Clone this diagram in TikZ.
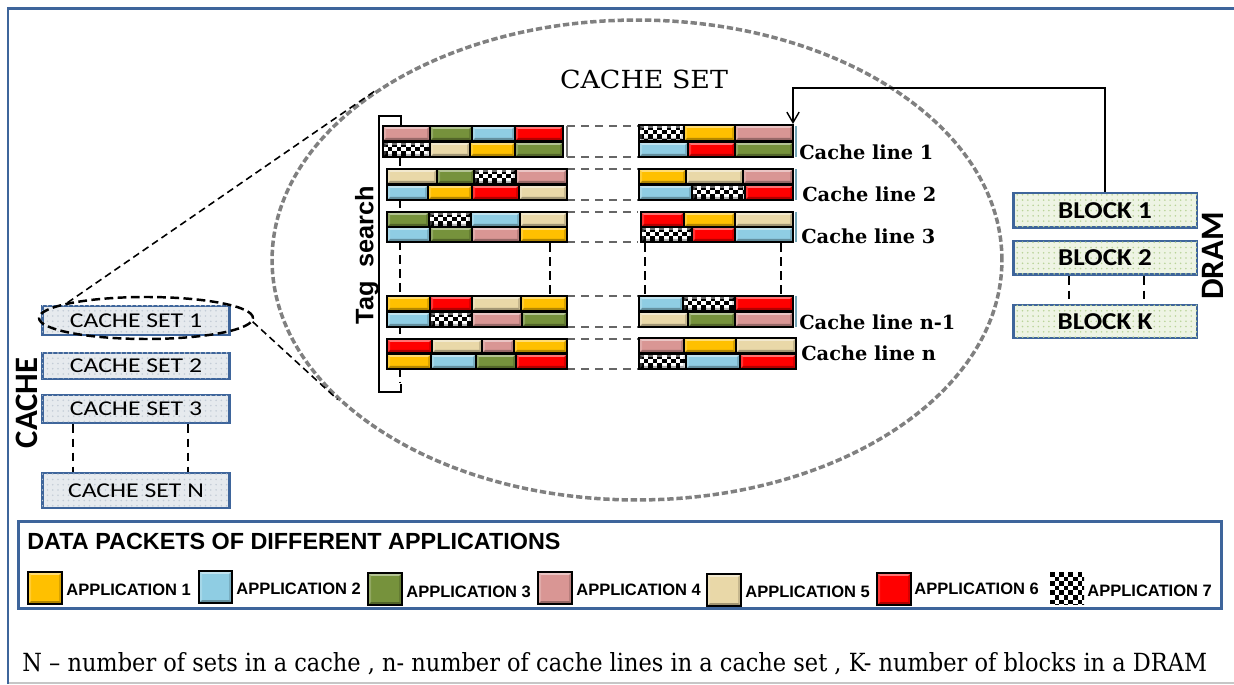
\documentclass[tikz,border=0pt]{standalone}
\usepackage{fontspec}
\usepackage{graphicx}
\usetikzlibrary{patterns,arrows.meta,shapes.geometric}
\setmainfont{DejaVu Serif}
\newfontfamily\calib{Carlito}
\newfontfamily\lsans{Liberation Sans}

\definecolor{appY}{HTML}{FFC000}
\definecolor{appB}{HTML}{8FCDE3}
\definecolor{appG}{HTML}{76923C}
\definecolor{appP}{HTML}{D99694}
\definecolor{appT}{HTML}{E9D8A8}
\definecolor{appR}{HTML}{FF0000}
\definecolor{frameblue}{HTML}{3E659B}
\definecolor{setfill}{HTML}{E6EAEE}
\definecolor{setdot}{HTML}{C3CCD6}
\definecolor{blkfill}{HTML}{EEF4E4}
\definecolor{blkdot}{HTML}{B9D398}

\tikzset{
  pY/.style={fill=appY},
  pB/.style={fill=appB},
  pG/.style={fill=appG},
  pP/.style={fill=appP},
  pT/.style={fill=appT},
  pR/.style={fill=appR},
  pK/.style={fill=white},
  setbox/.style={draw=frameblue, line width=1.7pt, fill=setfill,
    postaction={pattern=dots, pattern color=setdot},
    minimum width=3.76cm, inner sep=0pt,
    font=\calib\fontsize{12pt}{12pt}\selectfont},
  blkbox/.style={draw=frameblue, line width=1.7pt, fill=blkfill,
    postaction={pattern=dots, pattern color=blkdot},
    minimum width=3.68cm, inner sep=0pt,
    font=\calib\bfseries\fontsize{13.8pt}{14pt}\selectfont},
  sidelabel/.style={rotate=90, inner sep=0pt, font=\calib\bfseries\fontsize{18.6pt}{19pt}\selectfont},
  clabel/.style={anchor=west, inner sep=0pt, font=\bfseries\fontsize{11pt}{12pt}\selectfont},
  lglabel/.style={anchor=west, inner sep=0pt, font=\lsans\bfseries\fontsize{9.4pt}{10pt}\selectfont},
  gapdash/.style={draw=black!60, line width=0.7pt, dash pattern=on 4.5pt off 3.5pt},
  vdash/.style={draw=black, line width=1.1pt, dash pattern=on 5pt off 3pt},
}

% black and white checks inside a rectangle: x1, y1, x2, y2
\newcommand\checks[4]{%
  \begin{scope}
    \clip (#1,#2) rectangle (#3,#4);
    \fill[white] (#1,#2) rectangle (#3,#4);
    \foreach \i in {0,...,7} \foreach \j in {0,...,4} {
      \fill[black] ({#1+9.2*\i},{#2+9.2*\j}) rectangle ++(4.6,4.6);
      \fill[black] ({#1+9.2*\i+4.6},{#2+9.2*\j+4.6}) rectangle ++(4.6,4.6);
    }
  \end{scope}}

% one bevelled data packet: x1, y1, x2, y2, style
\newcommand\pktbox[5]{%
  \fill[#5] (#1,#2) rectangle (#3,#4);
  \ifnum\pdfstrcmp{#5}{pK}=0 \checks{#1}{#2}{#3}{#4}\fi
  \fill[white,opacity=.45] (#1,#2) -- (#3,#2) -- ({#3-3},{#2+3}) -- ({#1+3},{#2+3}) -- cycle;
  \fill[white,opacity=.2] (#1,#2) -- ({#1+3},{#2+3}) -- ({#1+3},{#4-3}) -- (#1,#4) -- cycle;
  \fill[black,opacity=.15] (#3,#2) -- ({#3-3},{#2+3}) -- ({#3-3},{#4-3}) -- (#3,#4) -- cycle;
  \fill[black,opacity=.3] (#1,#4) -- (#3,#4) -- ({#3-3},{#4-3}) -- ({#1+3},{#4-3}) -- cycle;
  \draw[black,line width=.8pt] (#1,#2) rectangle (#3,#4);
}
% a row of packets: y1, y2, list of x1/x2/style
\newcommand\pktrow[3]{\foreach \a/\b/\s in {#3} {\pktbox{\a}{#1}{\b}{#2}{\s}}}

\begin{document}
\begin{tikzpicture}[x=0.02cm,y=-0.02cm]
\useasboundingbox (0,0) rectangle (1234,685);

% outer frame
\draw[gray!45, line width=1pt] (8,683) -- (1234,683);
\draw[frameblue, line width=1.7pt] (8,684) -- (8,9) -- (1240,9);

% magnified cache set
\node[ellipse, draw=gray, line width=2pt, dash pattern=on 3.6pt off 1.6pt,
      minimum width=14.6cm, minimum height=9.6cm, inner sep=0pt] (big) at (637,260) {};
\node[inner sep=0pt, anchor=base] (title) at (644,89)
     {\resizebox{3.36cm}{0.37cm}{CACHE SET}};

% tag search bracket
\draw[black, line width=1pt] (401,125) -- (401,116) -- (379,116) -- (379,392) -- (401,392) -- (401,384);
\node[rotate=90, inner sep=0pt, font=\lsans\bfseries\fontsize{14.4pt}{15pt}\selectfont] (tag) at (367,255) {Tag~~search};

% dashed guides behind the packets
\draw[vdash] (400,157) -- (400,382);
\draw[vdash] (550,243) -- (550,296);
\draw[vdash] (645,243) -- (645,296);
\draw[vdash] (781,243) -- (781,296);

% gaps between the two halves of each cache line
\foreach \y in {126,157,169,200,212,242,296,327,339,369}
  \draw[gapdash] (567,\y) -- (638,\y);
\foreach \ya/\yb in {126/157,169/200,212/242,296/327,339/369}
  \draw[black!55, line width=.6pt] (567,\ya) -- (567,\yb);
\foreach \ya/\yb in {126/157,169/200,212/242,296/327,339/369}
  \draw[appB!80!black, line width=.9pt] (796,\ya) -- (796,\yb);

% cache line 1
\pktrow{126}{141}{383/430/pP,430/472/pG,472/515/pB,515/563/pR}
\pktrow{142}{157}{383/430/pK,430/470/pT,470/515/pY,515/563/pG}
\pktrow{125}{141}{639/684/pK,684/735/pY,735/793/pP}
\pktrow{142}{157}{639/688/pB,688/735/pR,735/793/pG}
% cache line 2
\pktrow{169}{184}{387/437/pT,437/474/pG,474/516/pK,516/567/pP}
\pktrow{185}{200}{387/428/pB,428/472/pY,472/519/pR,519/567/pT}
\pktrow{169}{184}{639/686/pY,686/743/pT,743/793/pP}
\pktrow{185}{200}{639/692/pB,692/745/pK,745/793/pR}
% cache line 3
\pktrow{212}{227}{387/429/pG,429/471/pK,471/520/pB,520/567/pT}
\pktrow{227}{242}{387/430/pB,430/472/pG,472/520/pP,520/567/pY}
\pktrow{212}{227}{641/684/pR,684/735/pY,735/793/pT}
\pktrow{227}{242}{641/692/pK,692/735/pR,735/793/pB}
% cache line n-1
\pktrow{296}{311}{387/430/pY,430/472/pR,472/521/pT,521/567/pY}
\pktrow{312}{327}{387/430/pB,430/472/pK,472/522/pP,522/567/pG}
\pktrow{296}{311}{639/683/pB,683/735/pK,735/793/pR}
\pktrow{312}{327}{639/688/pT,688/735/pG,735/793/pP}
% cache line n
\pktrow{339}{353}{387/432/pR,432/482/pT,482/514/pP,514/567/pY}
\pktrow{354}{369}{387/431/pY,431/476/pB,476/516/pG,516/567/pR}
\pktrow{338}{353}{639/684/pP,684/736/pY,736/796/pT}
\pktrow{354}{369}{639/686/pK,686/740/pB,740/796/pR}

% cache line labels
\node[clabel] (cl1) at (799,152) {Cache line 1};
\node[clabel] (cl2) at (802,194) {Cache line 2};
\node[clabel] (cl3) at (801,236) {Cache line 3};
\node[clabel] (cln1) at (799,322) {Cache line n-1};
\node[clabel] (cln) at (801,353) {Cache line n};

% cache sets
\node[setbox, minimum height=0.58cm] (cs1) at (136,320.5) {\scalebox{1.22}[1]{CACHE SET 1}};
\node[setbox, minimum height=0.52cm] (cs2) at (136,366) {\scalebox{1.22}[1]{CACHE SET 2}};
\node[setbox, minimum height=0.56cm] (cs3) at (136,409) {\scalebox{1.22}[1]{CACHE SET 3}};
\node[setbox, minimum height=0.70cm] (csN) at (136,490.5) {\scalebox{1.22}[1]{CACHE SET N}};
\draw[vdash] (cs3.south -| 73,0) -- (csN.north -| 73,0);
\draw[vdash] (cs3.south -| 188,0) -- (csN.north -| 188,0);
\node[sidelabel] (cache) at (27,403) {CACHE};

% ring round the first set and its ties to the enlargement
\node[ellipse, draw=black, line width=1.4pt, dash pattern=on 5pt off 2.5pt,
      minimum width=4.28cm, minimum height=0.84cm, inner sep=0pt] (ring) at (146,318) {};
\draw[black, line width=0.9pt, dash pattern=on 4pt off 2.5pt] (ring.169) -- (big.147);
\draw[black, line width=0.9pt, dash pattern=on 4pt off 2.5pt] (ring.358) -- (big.205);

% DRAM blocks
\node[blkbox, minimum height=0.70cm] (b1) at (1105,210.5) {\scalebox{1.12}[1]{BLOCK 1}};
\node[blkbox, minimum height=0.68cm] (b2) at (1105,258) {\scalebox{1.12}[1]{BLOCK 2}};
\node[blkbox, minimum height=0.66cm] (bk) at (1105,321.5) {\scalebox{1.12}[1]{BLOCK K}};
\draw[vdash] (b2.south -| 1069,0) -- (bk.north -| 1069,0);
\draw[vdash] (b2.south -| 1144,0) -- (bk.north -| 1144,0);
\node[sidelabel] (dram) at (1213,256) {DRAM};

% fetch path from DRAM into cache line 1
\coordinate (fetch) at (793,124);
\draw[black, line width=0.8pt, -{Straight Barb[length=6pt,width=7pt]}] (b1.north) |- (fetch |- 0,88) -- (fetch);

% legend
\node[draw=frameblue, line width=1.7pt, fill=white, minimum width=24.08cm, minimum height=1.74cm,
      inner sep=0pt] (legend) at (620,565) {};
\node[anchor=west, inner sep=0pt, font=\lsans\bfseries\fontsize{13.3pt}{14pt}\selectfont] (lgtitle) at (27,541)
     {DATA PACKETS OF DIFFERENT APPLICATIONS};
\pktbox{28}{572}{62}{604}{pY}
\node[lglabel] (l1) at (66,590) {APPLICATION 1};
\pktbox{199}{571}{232}{603}{pB}
\node[lglabel] (l2) at (236,589) {APPLICATION 2};
\pktbox{368}{573}{402}{605}{pG}
\node[lglabel] (l3) at (406,592) {APPLICATION 3};
\pktbox{538}{572}{572}{604}{pP}
\node[lglabel] (l4) at (576,590) {APPLICATION 4};
\pktbox{707}{574}{741}{606}{pT}
\node[lglabel] (l5) at (745,592) {APPLICATION 5};
\pktbox{877}{573}{911}{605}{pR}
\node[lglabel] (l6) at (914,589) {APPLICATION 6};
\checks{1050}{572}{1084}{604}
\node[lglabel] (l7) at (1087,591) {APPLICATION 7};

% key to the symbols
\node[anchor=base west, inner sep=0pt, font=\fontsize{14pt}{15pt}\selectfont] (key) at (22,671)
     {\resizebox{23.7cm}{0.38cm}{N -- number of sets in a cache , n- number of cache lines in a cache set , K- number of blocks in a DRAM}};
\end{tikzpicture}
\end{document}
